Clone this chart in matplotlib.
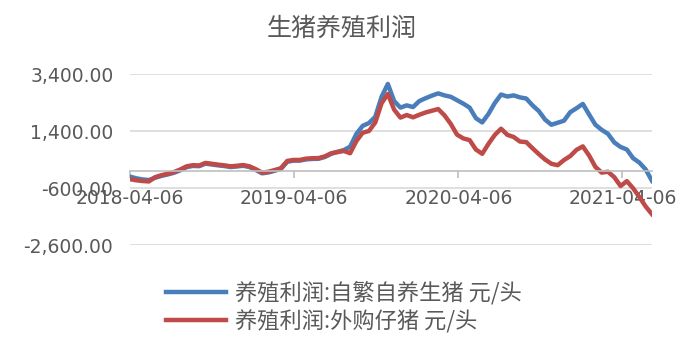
import pandas as pd
import matplotlib.pyplot as plt
import matplotlib.dates as mdates
from matplotlib.ticker import FuncFormatter

# biweekly data, 2018-04-06 .. 2021-06-11
dates = pd.date_range("2018-04-06", periods=84, freq="14D")

self_bred = [-200, -260, -300, -320, -240, -175, -125, -65, 20, 130,
             175, 165, 255, 225, 195, 170, 135, 155, 180, 135,
             35, -85, -55, 5, 70, 320, 360, 360, 405, 420,
             425, 490, 600, 670, 730, 850, 1300, 1580, 1680, 1900,
             2600, 3050, 2450, 2220, 2300, 2240, 2450, 2550, 2640, 2720,
             2650, 2600, 2480, 2360, 2220, 1850, 1700, 2000, 2380, 2680,
             2610, 2650, 2580, 2540, 2300, 2100, 1800, 1620, 1690, 1760,
             2060, 2200, 2350, 1980, 1620, 1440, 1300, 1000, 840, 750,
             445, 290, 50, -350]

bought_piglet = [-290, -330, -355, -370, -220, -150, -100, -40, 50, 160,
                 200, 190, 280, 250, 220, 195, 160, 180, 205, 160,
                 60, -60, -30, 30, 95, 350, 385, 385, 430, 445,
                 450, 510, 620, 660, 700, 620, 1050, 1340, 1400, 1700,
                 2375, 2700, 2150, 1870, 1960, 1880, 1970, 2050, 2110, 2170,
                 1950, 1650, 1270, 1140, 1080, 750, 600, 950, 1260, 1480,
                 1265, 1190, 1030, 1010, 795, 590, 400, 250, 200, 380,
                 520, 740, 860, 540, 140, -60, -30, -220, -530, -360,
                 -610, -920, -1250, -1520]

y_ticks = [-2600, -600, 1400, 3400]
x_ticks = ["2018-04-06", "2019-04-06", "2020-04-06", "2021-04-06"]

title = "生猪养殖利润"
labels = ["养殖利润:自繁自养生猪 元/头", "养殖利润:外购仔猪 元/头"]

gray = "#595959"
cjk = ["Noto Sans CJK SC", "DejaVu Sans"]

fig = plt.figure(figsize=(6.83, 3.53), dpi=100)
ax = fig.add_axes([130 / 683, 1 - 245 / 353, 522 / 683, 171 / 353])

l1, = ax.plot(dates, self_bred, color="#4A7EBB", lw=3.2, solid_joinstyle="round")
l2, = ax.plot(dates, bought_piglet, color="#BE4B48", lw=3.2, solid_joinstyle="round")

ax.set_ylim(-2600, 3400)
ax.set_xlim(dates[0], dates[-1])
ax.set_yticks(y_ticks)
ax.yaxis.set_major_formatter(FuncFormatter(lambda v, p: f"{v:,.2f}"))
ax.grid(axis="y", color="#D9D9D9", lw=1.2)
ax.set_axisbelow(True)

ax.set_xticks(pd.to_datetime(x_ticks))
ax.xaxis.set_major_formatter(mdates.DateFormatter("%Y-%m-%d"))

for s in ["left", "right", "top"]:
    ax.spines[s].set_visible(False)
ax.spines["bottom"].set_position(("data", 0))
ax.spines["bottom"].set_color("#BFBFBF")
ax.spines["bottom"].set_linewidth(1.2)

ax.tick_params(axis="y", length=0, pad=12, labelsize=13.5, labelcolor=gray)
ax.tick_params(axis="x", length=5, width=1.2, color="#BFBFBF", pad=8,
               labelsize=13.5, labelcolor=gray)

fig.text(0.5, 1 - 29 / 353, title, ha="center", va="center", fontsize=18,
         color=gray, family=cjk)

leg = fig.legend([l1, l2], labels, loc="center left",
                 bbox_to_anchor=(155 / 683, 1 - 307 / 353), frameon=False,
                 prop={"family": cjk, "size": 16}, handlelength=2.7,
                 handletextpad=0.4, labelspacing=0.25, borderpad=0)
for t in leg.get_texts():
    t.set_color(gray)

fig.savefig("out.png", dpi=100)
